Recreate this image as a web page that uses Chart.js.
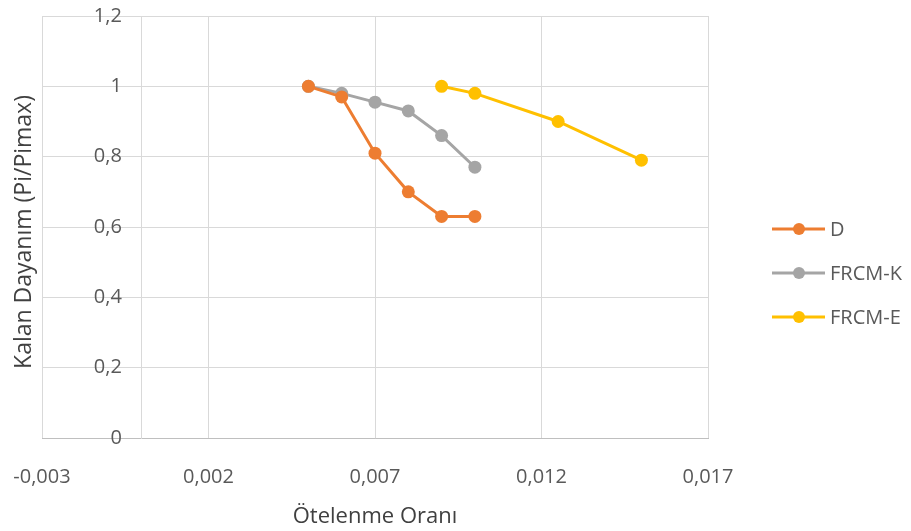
<!DOCTYPE html>
<html>
<head>
<meta charset="utf-8">
<script src="https://cdn.jsdelivr.net/npm/chart.js@4.4.1/dist/chart.umd.min.js"></script>
<style>
  html, body { margin: 0; padding: 0; background: #ffffff; }
  #wrap { width: 911px; height: 531px; position: relative; }
</style>
</head>
<body>
<div id="wrap"><canvas id="c" width="911" height="531"></canvas></div>
<script>
// ---- data ----
const seriesNames = ["D", "FRCM-K", "FRCM-E"];
const xD = [0.005, 0.006, 0.007, 0.008, 0.009, 0.010];
const yD = [1, 0.97, 0.81, 0.70, 0.63, 0.63];
const xK = [0.005, 0.006, 0.007, 0.008, 0.009, 0.010];
const yK = [1, 0.98, 0.955, 0.93, 0.86, 0.77];
const xE = [0.009, 0.010, 0.0125, 0.015];
const yE = [1, 0.98, 0.90, 0.79];
const xTicks = [-0.003, 0.002, 0.007, 0.012, 0.017];
const yTicks = [0, 0.2, 0.4, 0.6, 0.8, 1, 1.2];
const xTitle = "Ötelenme Oranı";
const yTitle = "Kalan Dayanım (Pi/Pimax)";
const colors = ["#ED7D31", "#A5A5A5", "#FFC000"];

function pts(xs, ys) { return xs.map((x, i) => ({ x: x, y: ys[i] })); }
function fmt(v) {
  let s = (Math.round(v * 1e6) / 1e6).toString();
  return s.replace('.', ',');
}

const seriesData = [pts(xD, yD), pts(xK, yK), pts(xE, yE)];

const datasets = seriesNames.map((n, i) => ({
  label: n,
  data: seriesData[i],
  borderColor: colors[i],
  backgroundColor: colors[i],
  pointBackgroundColor: colors[i],
  pointBorderColor: colors[i],
  pointBorderWidth: 0,
  pointRadius: 6.5,
  borderWidth: 3,
  showLine: true,
  tension: 0
}));

const FONT = "'Open Sans', sans-serif";

const customDraw = {
  id: 'customDraw',
  afterDraw(chart) {
    const ctx = chart.ctx;
    ctx.save();
    // y title
    ctx.fillStyle = '#404040';
    ctx.font = "23px " + FONT;
    ctx.textAlign = 'center';
    ctx.textBaseline = 'middle';
    ctx.translate(24, 232);
    ctx.rotate(-Math.PI / 2);
    ctx.fillText(yTitle, 0, 0);
    ctx.restore();

    // legend
    ctx.save();
    const rowsY = [229, 273, 317];
    chart.data.datasets.forEach((ds, i) => {
      const y = rowsY[i];
      ctx.strokeStyle = ds.borderColor;
      ctx.lineWidth = 3;
      ctx.beginPath();
      ctx.moveTo(772, y);
      ctx.lineTo(825, y);
      ctx.stroke();
      ctx.fillStyle = ds.borderColor;
      ctx.beginPath();
      ctx.arc(799, y, 6, 0, Math.PI * 2);
      ctx.fill();
      ctx.fillStyle = '#595959';
      ctx.font = "20px " + FONT;
      ctx.textAlign = 'left';
      ctx.textBaseline = 'middle';
      ctx.fillText(ds.label, 830, y + 1);
    });
    ctx.restore();
  }
};

new Chart(document.getElementById('c'), {
  type: 'scatter',
  data: { datasets: datasets },
  options: {
    responsive: false,
    animation: false,
    devicePixelRatio: 1,
    layout: { padding: { left: 42, right: 203, top: 16, bottom: 0 } },
    plugins: {
      legend: { display: false },
      tooltip: { enabled: false }
    },
    scales: {
      x: {
        type: 'linear',
        position: 'bottom',
        min: -0.003,
        max: 0.017,
        afterBuildTicks: (scale) => { scale.ticks = xTicks.map(v => ({ value: v })); },
        afterFit: (scale) => { scale.paddingLeft = 0; scale.paddingRight = 0; scale.height = 93; },
        ticks: {
          callback: (v) => (v < 0 ? '-' : '') + Math.abs(v).toFixed(3).replace('.', ','),
          color: '#595959',
          font: { family: FONT, size: 20 },
          padding: 27,
          maxRotation: 0,
          autoSkip: false
        },
        grid: { color: '#d9d9d9', lineWidth: 1, drawTicks: false },
        border: { color: '#bfbfbf', width: 1 },
        title: {
          display: true,
          text: xTitle,
          color: '#404040',
          font: { family: FONT, size: 22 },
          padding: { top: 0, bottom: 1 }
        }
      },
      y: {
        type: 'linear',
        position: { x: 0 },
        min: 0,
        max: 1.2,
        afterBuildTicks: (scale) => { scale.ticks = yTicks.map(v => ({ value: v })); },
        afterFit: (scale) => { scale.paddingTop = 0; scale.paddingBottom = 0; },
        ticks: {
          callback: (v) => fmt(v) + '\u2003',
          color: '#595959',
          font: { family: FONT, size: 20 },
          padding: 4
        },
        grid: { color: '#d9d9d9', lineWidth: 1, drawTicks: false },
        border: { color: '#d9d9d9', width: 1 }
      }
    }
  },
  plugins: [customDraw]
});
</script>
</body>
</html>
